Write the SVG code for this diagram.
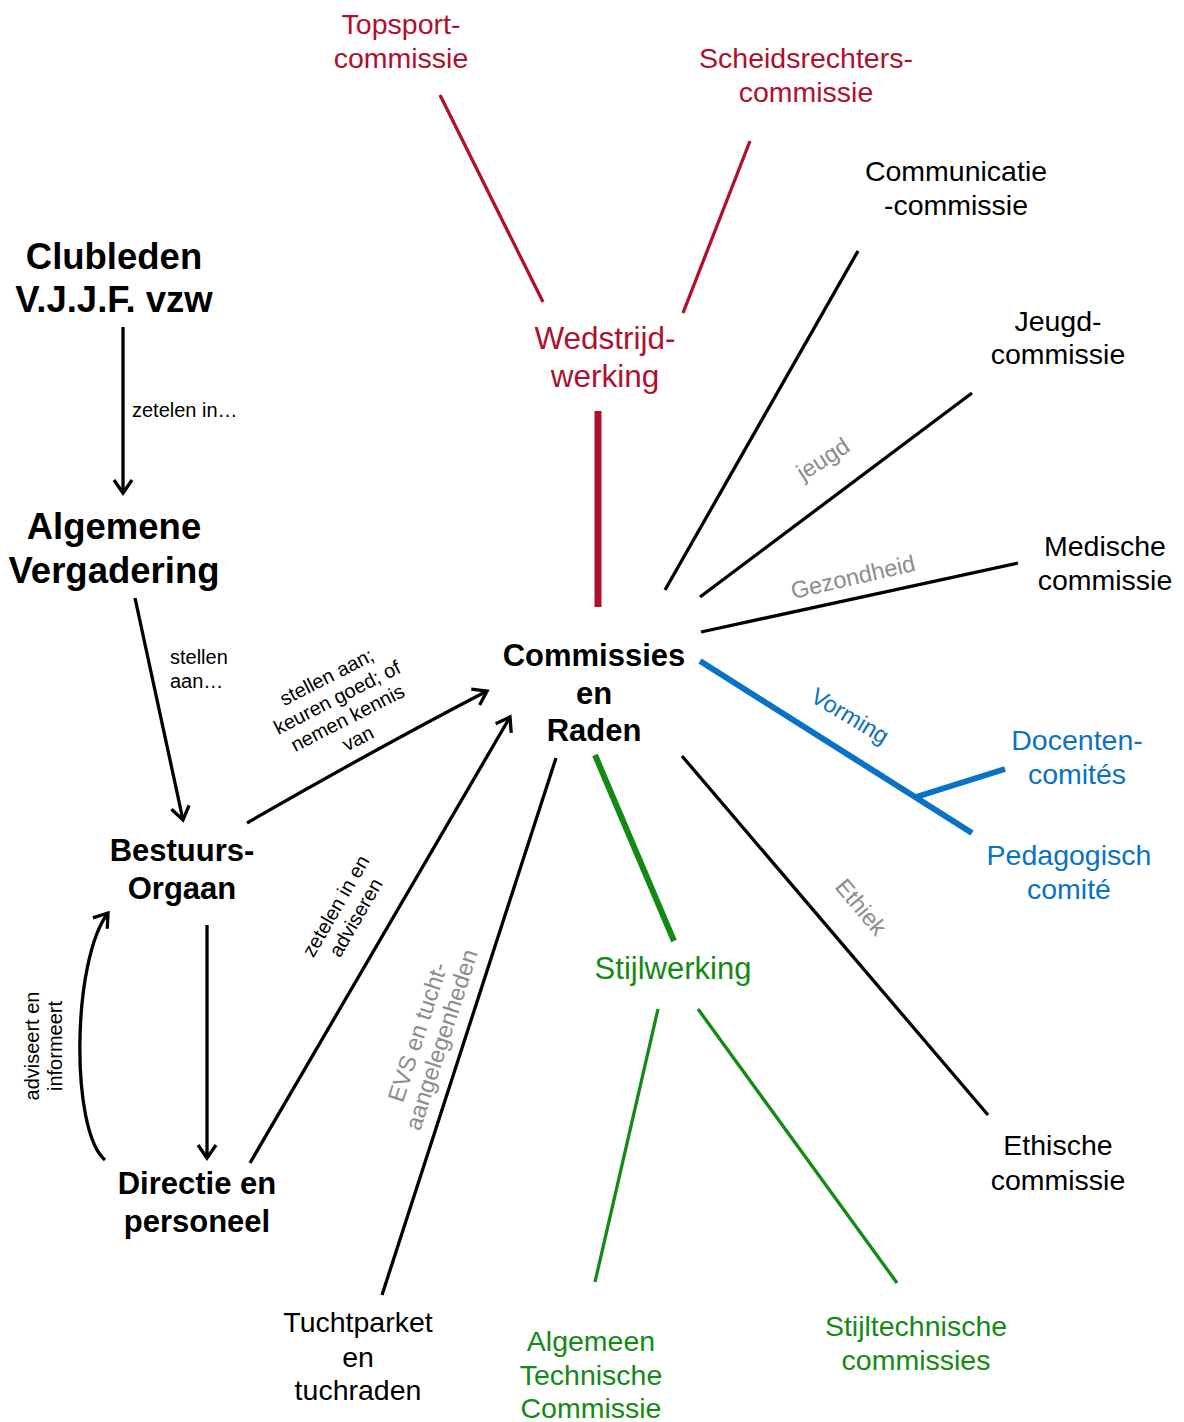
<svg xmlns="http://www.w3.org/2000/svg" width="1184" height="1422" viewBox="0 0 1184 1422">
<style>
text{font-family:"Liberation Sans",Arial,sans-serif;text-anchor:middle}
.n{font-size:28.5px;fill:#000}
.hb{font-weight:bold;font-size:36.5px;fill:#000}
.hm{font-weight:bold;font-size:31px;fill:#000}
.lab{font-size:20px;fill:#000}
.gl{font-size:23.5px;fill:#8C8C8C}
.r{fill:#B0102E}
.b{fill:#0A72C4}
.g{fill:#138A13}
.k{stroke:#000;stroke-width:3.3;fill:none}
.rl{stroke:#B0102E;fill:none}
.bl{stroke:#0A72C4;fill:none}
.gr{stroke:#138A13;fill:none}
</style>
<defs>
<marker id="a" markerWidth="22" markerHeight="22" viewBox="0 0 22 22" refX="18" refY="11" orient="auto" markerUnits="userSpaceOnUse">
<path d="M5,2 L18,11 L5,20" fill="none" stroke="#000" stroke-width="3.3"/>
</marker>
</defs>
<g id="connectors">
<line class="rl" stroke-width="3.3" x1="440" y1="95" x2="543" y2="302"/>
<line class="rl" stroke-width="3.3" x1="750" y1="141" x2="683" y2="313"/>
<line class="rl" stroke-width="7" x1="598" y1="411" x2="598" y2="607"/>
<line class="k" x1="858" y1="251" x2="665" y2="590"/>
<line class="k" x1="972" y1="393" x2="700" y2="597"/>
<line class="k" x1="1018" y1="563" x2="701" y2="632"/>
<line class="bl" stroke-width="6" x1="700" y1="661" x2="972" y2="833"/>
<line class="bl" stroke-width="6" x1="916" y1="797" x2="1005" y2="769"/>
<line class="k" x1="682" y1="756" x2="988" y2="1115"/>
<line class="gr" stroke-width="6" x1="595" y1="755" x2="674" y2="941"/>
<line class="gr" stroke-width="3.3" x1="658" y1="1009" x2="595" y2="1282"/>
<line class="gr" stroke-width="3.3" x1="698" y1="1009" x2="897" y2="1283"/>
<line class="k" x1="556" y1="758" x2="382" y2="1295"/>
<line class="k" x1="123" y1="327" x2="123" y2="493" marker-end="url(#a)"/>
<line class="k" x1="135" y1="598" x2="183" y2="820" marker-end="url(#a)"/>
<path class="k" d="M247,823 Q370,752 487,691" marker-end="url(#a)"/>
<line class="k" x1="250" y1="1163" x2="510" y2="717" marker-end="url(#a)"/>
<line class="k" x1="207" y1="925" x2="207" y2="1158" marker-end="url(#a)"/>
<path class="k" d="M105,1160 C70,1130 72,960 108,913" marker-end="url(#a)"/>
<text class="lab" x="132" y="417" style="text-anchor:start">zetelen in…</text>
<text class="lab" x="170" y="664" style="text-anchor:start">stellen</text>
<text class="lab" x="170" y="688" style="text-anchor:start">aan…</text>
<text class="lab" transform="translate(342,707) rotate(-27)"><tspan x="0" y="-27">stellen aan;</tspan><tspan x="0" y="-4">keuren goed; of</tspan><tspan x="0" y="19">nemen kennis</tspan><tspan x="0" y="42">van</tspan></text>
<text class="lab" transform="translate(346,912) rotate(-60)"><tspan x="0" y="-5">zetelen in en</tspan><tspan x="0" y="18">adviseren</tspan></text>
<text class="lab" transform="translate(44,1046) rotate(-90)"><tspan x="0" y="-5">adviseert en</tspan><tspan x="0" y="18">informeert</tspan></text>
<text class="gl" transform="translate(430,1036) rotate(-72)"><tspan x="0" y="-5">EVS en tucht-</tspan><tspan x="0" y="20">aangelegenheden</tspan></text>
<text class="gl" transform="translate(823,459) rotate(-33)" y="8">jeugd</text>
<text class="gl" transform="translate(853,577) rotate(-13)" y="8">Gezondheid</text>
<text class="gl b" transform="translate(850,716) rotate(31)" y="8">Vorming</text>
<text class="gl" transform="translate(861,907) rotate(50)" y="8">Ethiek</text>
</g>
<g id="topsport"><text class="n r"><tspan x="401" y="34">Topsport-</tspan><tspan x="401" y="68">commissie</tspan></text></g>
<g id="scheidsrechters"><text class="n r"><tspan x="806" y="68">Scheidsrechters-</tspan><tspan x="806" y="102">commissie</tspan></text></g>
<g id="communicatie"><text class="n"><tspan x="956" y="181">Communicatie</tspan><tspan x="956" y="215">-commissie</tspan></text></g>
<g id="jeugd"><text class="n"><tspan x="1058" y="331">Jeugd-</tspan><tspan x="1058" y="364">commissie</tspan></text></g>
<g id="medische"><text class="n"><tspan x="1105" y="556">Medische</tspan><tspan x="1105" y="590">commissie</tspan></text></g>
<g id="docenten"><text class="n b"><tspan x="1077" y="750">Docenten-</tspan><tspan x="1077" y="784">comités</tspan></text></g>
<g id="pedagogisch"><text class="n b"><tspan x="1069" y="865">Pedagogisch</tspan><tspan x="1069" y="899">comité</tspan></text></g>
<g id="ethische"><text class="n"><tspan x="1058" y="1155">Ethische</tspan><tspan x="1058" y="1190">commissie</tspan></text></g>
<g id="stijltechnische"><text class="n g"><tspan x="916" y="1336">Stijltechnische</tspan><tspan x="916" y="1370">commissies</tspan></text></g>
<g id="atc"><text class="n g"><tspan x="591" y="1351">Algemeen</tspan><tspan x="591" y="1385">Technische</tspan><tspan x="591" y="1418">Commissie</tspan></text></g>
<g id="tuchtparket"><text class="n"><tspan x="358" y="1332">Tuchtparket</tspan><tspan x="358" y="1367">en</tspan><tspan x="358" y="1400">tuchraden</tspan></text></g>
<g id="stijlwerking"><text class="n g" style="font-size:31px"><tspan x="673" y="979">Stijlwerking</tspan></text></g>
<g id="wedstrijdwerking"><text class="n r" style="font-size:31.5px"><tspan x="605" y="349">Wedstrijd-</tspan><tspan x="605" y="387">werking</tspan></text></g>
<g id="commissies"><text class="hm"><tspan x="594" y="666">Commissies</tspan><tspan x="594" y="704">en</tspan><tspan x="594" y="741">Raden</tspan></text></g>
<g id="clubleden"><text class="hb"><tspan x="114" y="269">Clubleden</tspan><tspan x="114" y="312">V.J.J.F. vzw</tspan></text></g>
<g id="av"><text class="hb"><tspan x="114" y="539">Algemene</tspan><tspan x="114" y="583">Vergadering</tspan></text></g>
<g id="bestuur"><text class="hm"><tspan x="182" y="861">Bestuurs-</tspan><tspan x="182" y="899">Orgaan</tspan></text></g>
<g id="directie"><text class="hm"><tspan x="197" y="1194">Directie en</tspan><tspan x="197" y="1232">personeel</tspan></text></g>
</svg>
